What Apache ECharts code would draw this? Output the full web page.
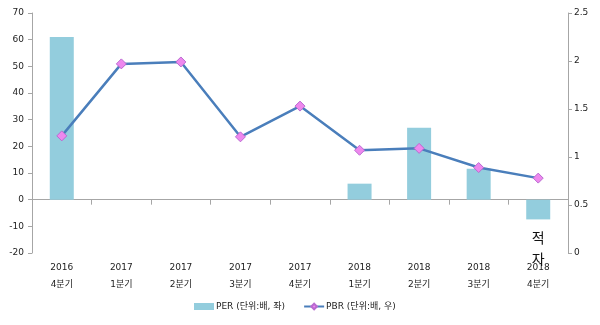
<!DOCTYPE html>
<html>
<head>
<meta charset="utf-8">
<script src="https://cdn.jsdelivr.net/npm/echarts@6/dist/echarts.min.js"></script>
<style>
  html, body { margin: 0; padding: 0; background: #fff; }
  #chart { width: 600px; height: 325px; }
</style>
</head>
<body>
<div id="chart"></div>
<script>
// Quarter labels (year / quarter)
const categories = ['2016\n4분기', '2017\n1분기', '2017\n2분기', '2017\n3분기', '2017\n4분기',
                    '2018\n1분기', '2018\n2분기', '2018\n3분기', '2018\n4분기'];
// PER (배, left axis); null where no bar is drawn
const perValues = [61, null, null, null, null, 6, 27, 11.6, -7.4];
// PBR (배, right axis)
const pbrValues = [1.22, 1.97, 1.99, 1.21, 1.53, 1.07, 1.09, 0.89, 0.78];

const FONT = '"DejaVu Sans", "Noto Sans CJK KR", sans-serif';
const HANGUL = '"Noto Sans CJK KR", "DejaVu Sans", sans-serif';
const axisGray = '#a6a6a6';

const perData = perValues.map(function (v) {
  if (v !== null && v < 0) {
    return {
      value: v,
      label: {
        show: true, position: 'bottom', distance: 8,
        formatter: '적\n자', fontSize: 14, lineHeight: 21,
        color: '#111', fontFamily: HANGUL
      }
    };
  }
  return v;
});

const chart = echarts.init(document.getElementById('chart'), null, { renderer: 'canvas' });
chart.setOption({
  animation: false,
  textStyle: { fontFamily: FONT },
  grid: { left: 32, right: 32, top: 13, bottom: 72, containLabel: false },
  legend: {
    bottom: 9,
    left: 189,
    itemGap: 18,
    textStyle: { fontSize: 9, color: '#222', fontFamily: FONT, padding: [0, 0, 0, -3] },
    data: [
      { name: 'PER (단위:배, 좌)', icon: 'rect' },
      { name: 'PBR (단위:배, 우)' }
    ],
    itemWidth: 20, itemHeight: 7
  },
  xAxis: [
    {
      type: 'category', data: categories, position: 'bottom',
      axisLine: { show: true, onZero: true, onZeroAxisIndex: 0, lineStyle: { color: axisGray, width: 1 } },
      axisTick: { show: true, length: 5, lineStyle: { color: axisGray } },
      axisLabel: { show: false },
      splitLine: { show: false }
    },
    {
      type: 'category', data: categories, position: 'bottom',
      axisLine: { show: false, onZero: false },
      axisTick: { show: false },
      axisLabel: { show: true, fontSize: 9, lineHeight: 17, color: '#222', margin: 6, fontFamily: FONT },
      splitLine: { show: false }
    }
  ],
  yAxis: [
    {
      type: 'value', min: -20, max: 70, interval: 10, position: 'left',
      axisLine: { show: true, lineStyle: { color: axisGray } },
      axisTick: { show: true, length: 4, lineStyle: { color: axisGray } },
      axisLabel: { fontSize: 9, color: '#222', margin: 8 },
      splitLine: { show: false }
    },
    {
      type: 'value', min: 0, max: 2.5, interval: 0.5, position: 'right',
      axisLine: { show: true, lineStyle: { color: axisGray } },
      axisTick: { show: true, length: 4, lineStyle: { color: axisGray } },
      axisLabel: { fontSize: 9, color: '#222', margin: 6 },
      splitLine: { show: false }
    }
  ],
  series: [
    {
      name: 'PER (단위:배, 좌)', type: 'bar', xAxisIndex: 0, yAxisIndex: 0,
      data: perData, barWidth: 24,
      itemStyle: { color: '#93cddd' }
    },
    {
      name: 'PBR (단위:배, 우)', type: 'line', xAxisIndex: 0, yAxisIndex: 1,
      data: pbrValues,
      symbol: 'diamond', symbolSize: 10,
      lineStyle: { color: '#4a7ebb', width: 2.5 },
      itemStyle: { color: '#ee88ee', borderColor: '#b96ad0', borderWidth: 1 },
      z: 5
    }
  ]
});
</script>
</body>
</html>
